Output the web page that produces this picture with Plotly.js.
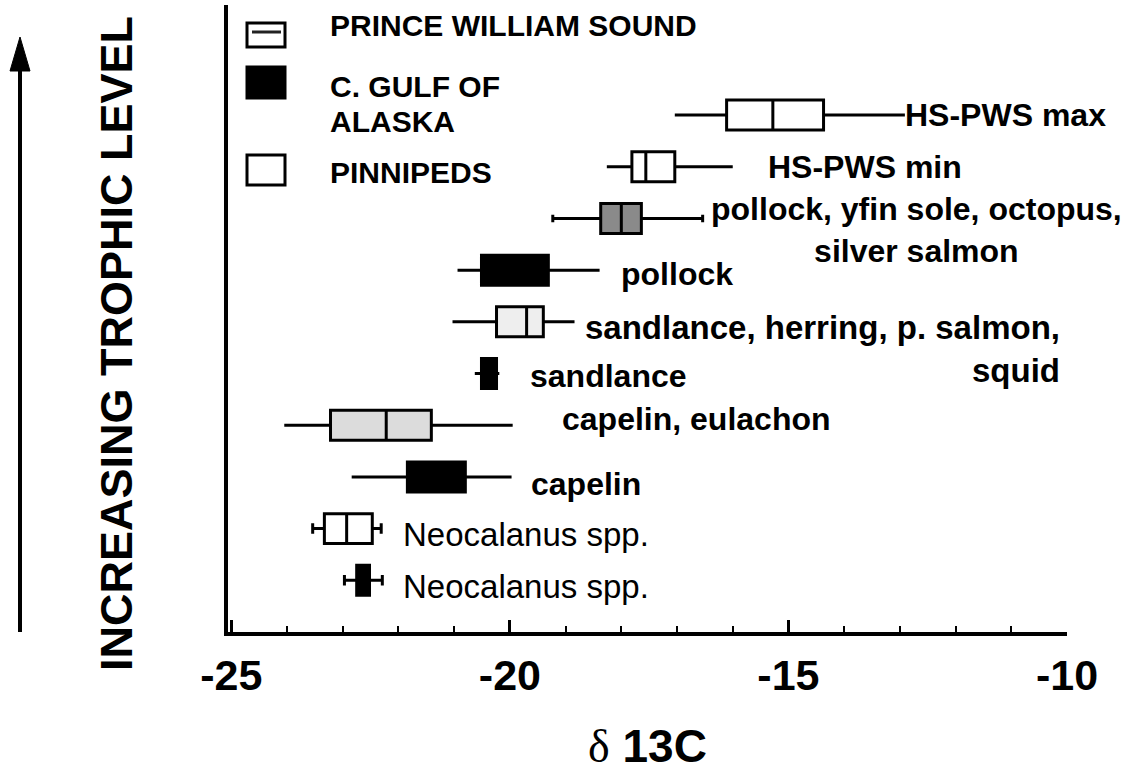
<!DOCTYPE html>
<html>
<head>
<meta charset="utf-8">
<script src="https://cdn.plot.ly/plotly-3.0.1.min.js"></script>
<style>
  html, body { margin: 0; padding: 0; background: #fff; }
  #chart { width: 1142px; height: 778px; }
</style>
</head>
<body>
<div id="chart"></div>
<script>
// ---------- data ----------
const categories = [
  'HS-PWS max',
  'HS-PWS min',
  'pollock, yfin sole, octopus,<br>silver salmon',
  'pollock',
  'sandlance, herring, p. salmon,<br>squid',
  'sandlance',
  'capelin, eulachon',
  'capelin',
  'Neocalanus spp.',
  'Neocalanus spp.'
];
const groups = ['PINNIPEDS', 'PINNIPEDS', 'PWS', 'GOA', 'PWS', 'GOA', 'PWS', 'GOA', 'PWS', 'GOA'];
const lowerWhisker = [-17.04, -18.26, -19.23, -20.94, -21.03, -20.63, -24.05, -22.84, -23.54, -22.97];
const q1Values     = [-16.11, -17.81, -18.37, -20.51, -20.24, -20.51, -23.22, -21.84, -23.33, -22.75];
const medianValues = [-15.28, -17.56, -18.00, -20.00, -19.70, -20.40, -22.22, -21.30, -22.93, -22.65];
const q3Values     = [-14.37, -17.04, -17.64, -19.31, -19.40, -20.24, -21.41, -20.80, -22.47, -22.52];
const upperWhisker = [-12.91, -16.00, -16.54, -18.39, -18.84, -20.19, -19.95, -19.97, -22.31, -22.29];
const tickValues = [-25, -20, -15, -10];
const tickLabels = ['-25', '-20', '-15', '-10'];
const legendNames = ['PRINCE WILLIAM SOUND', 'C. GULF OF', 'ALASKA', 'PINNIPEDS'];

// ---------- styling (kept apart from the data) ----------
const FONT = 'Liberation Sans, Arial, Helvetica, sans-serif';
const fillByRow = ['#ffffff', '#ffffff', '#8a8a8a', '#000000', '#eeeeee', '#000000', '#dcdcdc', '#000000', '#ffffff', '#000000'];
const capByRow  = [0, 0, 0.25, 0, 0, 0, 0, 0, 0.35, 0.35];
// label placement: [x in data units, xanchor, align, yshift px, font size, bold]
const labelPlace = [
  [-12.95, 'left', 'left', 0, 32, true],
  [-15.40, 'left', 'left', 0, 32, true],
  [-12.71, 'center', 'center', -12, 32, true],
  [-18.05, 'left', 'left', -4, 32, true],
  [-18.68, 'left', 'right', -27, 33, true],
  [-19.67, 'left', 'left', -2, 32, true],
  [-19.10, 'left', 'left', 6, 32, true],
  [-19.66, 'left', 'left', -7, 32, true],
  [-21.95, 'left', 'left', -6, 33, false],
  [-21.95, 'left', 'left', -6, 33, false]
];

const n = categories.length;
const rowPos = categories.map((_, i) => n - i);

const traces = categories.map((c, i) => ({
  type: 'box',
  orientation: 'h',
  name: c,
  y: [rowPos[i]],
  lowerfence: [lowerWhisker[i]],
  q1: [q1Values[i]],
  median: [medianValues[i]],
  q3: [q3Values[i]],
  upperfence: [upperWhisker[i]],
  width: 0.58,
  whiskerwidth: capByRow[i],
  fillcolor: fillByRow[i],
  line: { color: '#000', width: 3 },
  boxpoints: false,
  hoverinfo: 'skip',
  showlegend: false
}));

const annotations = categories.map((c, i) => ({
  xref: 'x', yref: 'y',
  x: labelPlace[i][0], y: rowPos[i],
  xanchor: labelPlace[i][1], yanchor: 'middle',
  align: labelPlace[i][2],
  yshift: labelPlace[i][3],
  text: c,
  showarrow: false,
  font: { family: FONT, size: labelPlace[i][4], color: '#000', weight: labelPlace[i][5] ? 'bold' : 'normal' }
}));

// pixel -> paper helpers (plot area: x 228..1067, y 5..632)
const PX = p => (p - 228) / 839;
const PY = p => (632 - p) / 627;

// legend texts
const legendY = [26, 86, 121, 173];
legendNames.forEach((t, i) => annotations.push({
  xref: 'paper', yref: 'paper', x: PX(328), y: PY(legendY[i]),
  xanchor: 'left', yanchor: 'middle', text: t, showarrow: false,
  font: { family: FONT, size: 30, color: '#000', weight: 'bold' }
}));

// y axis title (rotated)
annotations.push({
  xref: 'paper', yref: 'paper', x: PX(116), y: PY(344),
  xanchor: 'center', yanchor: 'middle', textangle: -90,
  text: 'INCREASING TROPHIC LEVEL', showarrow: false,
  font: { family: FONT, size: 45, color: '#000', weight: 'bold' }
});

const shapes = [
  // legend icons
  { type: 'rect', xref: 'paper', yref: 'paper', x0: PX(247), x1: PX(285), y0: PY(23), y1: PY(47), line: { color: '#000', width: 3 }, fillcolor: '#fff' },
  { type: 'line', xref: 'paper', yref: 'paper', x0: PX(252), x1: PX(281), y0: PY(32), y1: PY(32), line: { color: '#222', width: 3 } },
  { type: 'rect', xref: 'paper', yref: 'paper', x0: PX(247), x1: PX(285), y0: PY(67), y1: PY(98), line: { color: '#000', width: 3 }, fillcolor: '#000' },
  { type: 'rect', xref: 'paper', yref: 'paper', x0: PX(247), x1: PX(285), y0: PY(155), y1: PY(185), line: { color: '#000', width: 3 }, fillcolor: '#fff' },
  // trophic arrow
  { type: 'line', xref: 'paper', yref: 'paper', x0: PX(20), x1: PX(20), y0: PY(632), y1: PY(66), line: { color: '#000', width: 4 } },
  { type: 'path', xref: 'paper', yref: 'paper',
    path: `M ${PX(20)} ${PY(37)} L ${PX(10)} ${PY(71)} L ${PX(30)} ${PY(71)} Z`,
    fillcolor: '#000', line: { color: '#000', width: 1 } }
];

const layout = {
  width: 1142, height: 778,
  margin: { l: 228, r: 75, t: 5, b: 146 },
  paper_bgcolor: '#fff', plot_bgcolor: '#fff',
  font: { family: FONT, color: '#000' },
  showlegend: false,
  xaxis: {
    range: [-25.06, -10],
    showline: true, linewidth: 4, linecolor: '#000', mirror: false,
    showgrid: false, zeroline: false,
    ticks: 'inside', ticklen: 12, tickwidth: 3, tickcolor: '#000',
    tickvals: tickValues, ticktext: tickLabels,
    tickfont: { family: FONT, size: 43, color: '#000', weight: 'bold' },
    ticklabelstandoff: 2,
    minor: { dtick: 1, tick0: -25, ticks: 'inside', ticklen: 6, tickwidth: 2, tickcolor: '#000', showgrid: false },
    title: {
      text: '<span style="font-family:Liberation Serif, Times New Roman, serif;font-weight:normal">δ</span> 13C',
      font: { family: FONT, size: 46, color: '#000', weight: 'bold' },
      standoff: 33
    },
    fixedrange: true
  },
  yaxis: {
    range: [0, 12.13],
    showline: true, linewidth: 4, linecolor: '#000',
    showgrid: false, zeroline: false, showticklabels: false, ticks: '',
    fixedrange: true
  },
  annotations: annotations,
  shapes: shapes
};

Plotly.newPlot('chart', traces, layout, { staticPlot: true, displayModeBar: false });
</script>
</body>
</html>
